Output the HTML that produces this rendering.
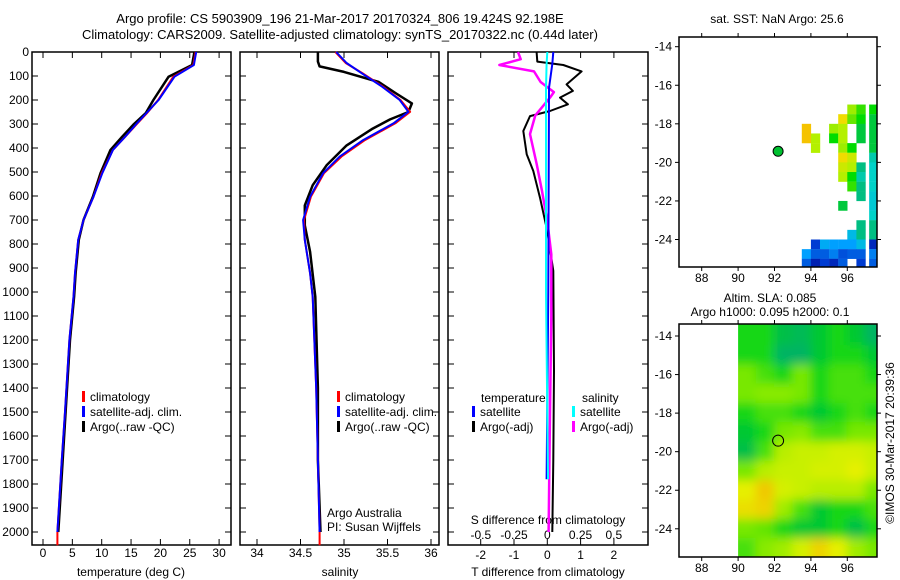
<!DOCTYPE html>
<html><head><meta charset="utf-8">
<style>
html,body{margin:0;padding:0;background:#fff;}
svg{display:block;font-family:"Liberation Sans",sans-serif;}
text{fill:#000;}
</style></head>
<body>
<svg id="c" width="900" height="580" viewBox="0 0 900 580" xmlns="http://www.w3.org/2000/svg">
<defs>
<clipPath id="clipM1"><rect x="679" y="37" width="198" height="230"/></clipPath>
<clipPath id="clipM2"><rect x="679" y="324" width="198" height="233"/></clipPath>
<filter id="blur" x="-20%" y="-20%" width="140%" height="140%"><feGaussianBlur stdDeviation="5"/></filter>
</defs>
<text x="340" y="23" font-size="13" text-anchor="middle">Argo profile: CS 5903909_196 21-Mar-2017 20170324_806 19.424S 92.198E</text>
<text x="340" y="39" font-size="13" text-anchor="middle">Climatology: CARS2009. Satellite-adjusted climatology: synTS_20170322.nc (0.44d later)</text>
<g id="g"></g>
</svg>
<script>
// ---- data ----
const depthTicks = [0,100,200,300,400,500,600,700,800,900,1000,1100,1200,1300,1400,1500,1600,1700,1800,1900,2000];
const tempTicks = [0,5,10,15,20,25,30];
const salTicks = [34,34.5,35,35.5,36];
const salTickLabels = ["34","34.5","35","35.5","36"];
const dTTicks = [-2,-1,0,1,2];
const dSTicks = [-0.5,-0.25,0,0.25,0.5];
const dSTickLabels = ["-0.5","-0.25","0","0.25","0.5"];

const depthT = [0,54,103,200,255,300,353,408,505,603,700,783,922,1020,1200,1500,1700,2000];
const climT = [26.0,25.6,22.2,19.6,17.7,16.0,14.0,11.9,10.0,8.6,6.9,6.0,5.45,5.2,4.5,3.75,3.2,2.45];
const satT  = [26.1,25.7,22.4,19.7,17.6,15.9,14.0,11.9,10.1,8.6,6.9,6.0,5.45,5.2,4.5,3.75,3.2,2.45];
const argoT = [25.8,25.4,21.4,18.8,17.5,15.5,13.5,11.5,9.8,8.5,6.9,6.1,5.55,5.3,4.6,3.85,3.35,2.6];

const depthS = [0,46,88,145,200,249,297,367,436,505,603,700,783,922,1020,1400,1700,2000];
const climS = [34.90,35.02,35.21,35.45,35.65,35.76,35.59,35.24,34.97,34.77,34.62,34.54,34.55,34.61,34.64,34.68,34.70,34.72];
const satS  = [34.91,35.03,35.20,35.44,35.64,35.74,35.57,35.22,34.95,34.76,34.61,34.53,34.55,34.61,34.64,34.68,34.70,34.72];
const depthAS = [0,40,60,83,125,173,214,250,281,319,389,472,555,639,722,833,1020,1400,1700,2000];
const argoS = [34.70,34.70,34.72,35.0,35.4,35.6,35.78,35.74,35.53,35.33,35.03,34.80,34.64,34.55,34.55,34.61,34.67,34.70,34.70,34.73];

const depthDT = [0,40,54,81,135,162,190,218,246,267,329,426,496,607,746,912,1329,1700,2000];
const argoDT = [-0.32,-0.3,0.48,1.03,0.58,0.77,0.38,0.62,0.08,-0.52,-0.72,-0.62,-0.42,-0.22,0,0.18,0.2,0.18,0.15];
const depthDS = [0,30,54,81,125,167,190,264,342,467,579,704,843,1100,1500,2000];
const argoDS = [-0.22,-0.2,-0.36,-0.1,-0.05,0.05,0.02,-0.09,-0.13,-0.08,-0.04,0,0.03,0.03,0.02,0.01];
const depthSat = [0,50,150,1000,1780];
const satDT = [0.18,0.15,0.05,0.03,-0.02];
const satDS = [0,-0.005,-0.01,-0.01,0.005];

const mapLonTicks = [88,90,92,94,96];
const mapLatTicks = [-14,-16,-18,-20,-22,-24];
const argoLon = 92.198, argoLat = -19.424;

// SST cells [lon, lat, value]
const sstLon = [96.25,96.75,97.45, 95.75,96.25,96.75,97.45, 93.75,95.25,95.75,96.75,97.45, 93.75,94.25,95.25,95.75,96.75,97.45, 94.25,95.75,96.25,97.45, 95.75,96.25,97.45, 95.75,96.25,96.75,97.45, 95.75,96.25,96.75,97.45, 96.25,96.75,97.45, 96.75,97.45, 95.75,97.45, 97.45, 96.75,97.45, 96.25,96.75,97.45, 94.25,94.75,95.25,95.75,96.25,96.75,97.45, 93.75,94.25,94.75,95.25,95.75,96.25,96.75,97.45, 93.75,94.25,94.75,95.25,95.75,96.75,97.45];
const sstLat = [-17.25,-17.25,-17.25, -17.75,-17.75,-17.75,-17.75, -18.25,-18.25,-18.25,-18.25,-18.25, -18.75,-18.75,-18.75,-18.75,-18.75,-18.75, -19.25,-19.25,-19.25,-19.25, -19.75,-19.75,-19.75, -20.25,-20.25,-20.25,-20.25, -20.75,-20.75,-20.75,-20.75, -21.25,-21.25,-21.25, -21.75,-21.75, -22.25,-22.25, -22.75, -23.25,-23.25, -23.75,-23.75,-23.75, -24.25,-24.25,-24.25,-24.25,-24.25,-24.25,-24.25, -24.75,-24.75,-24.75,-24.75,-24.75,-24.75,-24.75,-24.75, -25.25,-25.25,-25.25,-25.25,-25.25,-25.25,-25.25];
const sstVal = [0.7,0.6,0.55, 0.8,0.65,0.55,0.5, 0.85,0.7,0.72,0.5,0.5, 0.85,0.72,0.55,0.72,0.5,0.5, 0.72,0.7,0.55,0.5, 0.8,0.75,0.42, 0.75,0.72,0.45,0.4, 0.72,0.55,0.42,0.4, 0.6,0.45,0.4, 0.45,0.38, 0.5,0.38, 0.4, 0.45,0.45, 0.35,0.45,0.45, 0.15,0.32,0.3,0.3,0.3,0.35,0.1, 0.3,0.2,0.2,0.25,0.18,0.2,0.2,0.25, 0.2,0.08,0.15,0.1,0.2,0.15,0.2];

// SLA grid rows (lat) x cols (lon 90..97)
const slaLats = [-14,-15,-16,-17,-18,-19,-20,-21,-22,-23,-24,-25];
const slaLons = [90,91,92,93,94,95,96,97];
const slaVals = [
 [0.5,0.5,0.42,0.4,0.45,0.5,0.45,0.38],
 [0.5,0.5,0.38,0.38,0.45,0.5,0.5,0.45],
 [0.6,0.55,0.5,0.6,0.5,0.55,0.55,0.5],
 [0.6,0.62,0.62,0.6,0.5,0.55,0.55,0.55],
 [0.5,0.55,0.55,0.5,0.45,0.5,0.55,0.5],
 [0.45,0.5,0.6,0.62,0.55,0.55,0.6,0.6],
 [0.42,0.55,0.68,0.7,0.7,0.72,0.72,0.7],
 [0.6,0.68,0.7,0.7,0.72,0.72,0.75,0.7],
 [0.75,0.82,0.72,0.7,0.68,0.68,0.68,0.6],
 [0.78,0.8,0.65,0.55,0.45,0.5,0.5,0.55],
 [0.6,0.58,0.5,0.45,0.45,0.5,0.42,0.5],
 [0.55,0.62,0.65,0.72,0.8,0.75,0.65,0.6]];

// ---- helpers ----
const NS = "http://www.w3.org/2000/svg";
const G = document.getElementById('g');
function mk(tag, attrs, parent){const e=document.createElementNS(NS,tag);for(const k in attrs)e.setAttribute(k,attrs[k]);(parent||G).appendChild(e);return e;}
function txt(x,y,s,size,anchor,parent){const t=mk('text',{x:x,y:y,'font-size':size||12,'text-anchor':anchor||'middle'},parent);t.textContent=s;return t;}

const TOP=52, BOT=545;
const yD = d => TOP + d*0.24;
const P1={l:32,r:231}, P2={l:240,r:439}, P3={l:448,r:648};
const xT = v => 43 + v*5.87;
const xS = v => 257 + (v-34)*87;
const xDT = v => 547.3 + v*33.3;
const xDS = v => 547.3 + v*133;

function frame(p,name){
  const r=mk('rect',{x:p.l,y:TOP,width:p.r-p.l,height:BOT-TOP,fill:'none',stroke:'#000','stroke-width':1.5});
  
  
  depthTicks.forEach(d=>{
    mk('line',{x1:p.l,x2:p.l+6,y1:yD(d),y2:yD(d),stroke:'#000'});
    mk('line',{x1:p.r-6,x2:p.r,y1:yD(d),y2:yD(d),stroke:'#000'});
  });
}
function xticks(vals,fx,labels,ly,name,withTop){
  vals.forEach((v,i)=>{
    mk('line',{x1:fx(v),x2:fx(v),y1:BOT-6,y2:BOT,stroke:'#000'});
    if(withTop) mk('line',{x1:fx(v),x2:fx(v),y1:TOP,y2:TOP+6,stroke:'#000'});
    const t=txt(fx(v),ly,labels?labels[i]:String(v),12);
    
    
  });
}
function line(xs,ds,fx,color,w,name){
  const pts=xs.map((v,i)=>fx(v).toFixed(1)+','+yD(ds[i]).toFixed(1)).join(' ');
  const p=mk('polyline',{points:pts,fill:'none',stroke:color,'stroke-width':w,'stroke-linejoin':'round'});
  
  
  return p;
}
function legend(x,y,color,label,name){
  mk('rect',{x:x-1,y:y-6,width:3,height:11,fill:color});
  const t=txt(x+7,y+4,label,12,'start');
  
  
}

// ---- panel 1: temperature ----
frame(P1,'temperature-panel');
depthTicks.forEach(d=>{const t=txt(29,yD(d)+4,String(d),12,'end');
  
  });
xticks(tempTicks,xT,null,557,'temperature-tick-label',true);
{const t=txt(131,576,'temperature (deg C)',12);}
line(argoT,depthT,xT,'#000',2.5,'argo-temperature-line');
line(climT.concat([2.45]),depthT.concat([2055]),xT,'#f00',2,'climatology-temperature-line');
line(satT,depthT,xT,'#00f',2,'satellite-temperature-line');
legend(83,397,'#f00','climatology','legend-climatology');
legend(83,412,'#00f','satellite-adj. clim.','legend-satellite-adj');
legend(83,427,'#000','Argo(..raw -QC)','legend-argo');

// ---- panel 2: salinity ----
frame(P2,'salinity-panel');
xticks(salTicks,xS,salTickLabels,557,'salinity-tick-label',true);
{const t=txt(340,576,'salinity',12);}
line(argoS,depthAS,xS,'#000',2.5,'argo-salinity-line');
line(climS.concat([34.72]),depthS.concat([2055]),xS,'#f00',2,'climatology-salinity-line');
line(satS,depthS,xS,'#00f',2,'satellite-salinity-line');
legend(338,397,'#f00','climatology','legend-climatology-2');
legend(338,412,'#00f','satellite-adj. clim.','legend-satellite-adj-2');
legend(338,427,'#000','Argo(..raw -QC)','legend-argo-2');
{const t=txt(327,517,'Argo Australia',12,'start');}
{const t=txt(327,531,'PI: Susan Wijffels',12,'start');}

// ---- panel 3: differences ----
frame(P3,'difference-panel');
xticks(dTTicks,xDT,null,559,'t-diff-tick-label',true);
dSTicks.forEach((v,i)=>{const t=txt(xDS(v),539,dSTickLabels[i],12);
  
  });
{const t=txt(548,524,'S difference from climatology',12);}
{const t=txt(548,576,'T difference from climatology',12);}
line(argoDT,depthDT,xDT,'#000',2,'argo-t-diff-line');
line(argoDS,depthDS,xDS,'#f0f',2.5,'argo-s-diff-line');
line(satDT,depthSat,xDT,'#00f',2,'satellite-t-diff-line');
line(satDS,depthSat,xDS,'#0ff',2,'satellite-s-diff-line');
{const t=txt(481,402,'temperature',12,'start');}
{const t=txt(582,402,'salinity',12,'start');}
legend(473,412,'#00f','satellite','legend-t-satellite');
legend(473,427,'#000','Argo(-adj)','legend-t-argo');
legend(573,412,'#0ff','satellite','legend-s-satellite');
legend(573,427,'#f0f','Argo(-adj)','legend-s-argo');

// ---- maps ----
const mx = lon => 701.7 + (lon-88)*18.2;
function jet(v,stops){
  for(let i=1;i<stops.length;i++){ if(v<=stops[i][0]){const a=stops[i-1],b=stops[i],t=(v-a[0])/(b[0]-a[0]);
    return 'rgb('+[1,2,3].map(k=>Math.round(a[k]+(b[k]-a[k])*t)).join(',')+')';}}
  const s=stops[stops.length-1];return 'rgb('+s[1]+','+s[2]+','+s[3]+')';
}
const sstStops=[[0,0,0,140],[0.15,0,60,210],[0.3,0,160,255],[0.4,0,210,200],[0.45,0,190,130],[0.5,0,200,60],[0.55,0,220,0],[0.65,100,230,0],[0.72,180,240,0],[0.8,240,220,0],[0.9,250,170,0]];
const slaStops=[[0.38,0,180,100],[0.45,0,200,50],[0.5,20,215,20],[0.6,120,232,0],[0.7,200,240,0],[0.75,230,240,0],[0.82,240,200,0],[0.9,240,160,0]];

function mapFrame(top,bot,y0,name){
  const my = lat => y0 + (-14-lat)*19.28;
  const r=mk('rect',{x:679,y:top,width:198,height:bot-top,fill:'none',stroke:'#000','stroke-width':1.5});
  
  
  mapLonTicks.forEach(l=>{
    mk('line',{x1:mx(l),x2:mx(l),y1:top-4,y2:top,stroke:'#000'});
    mk('line',{x1:mx(l),x2:mx(l),y1:bot,y2:bot+4,stroke:'#000'});
    const t=txt(mx(l),bot+15,String(l),12);
    
    
  });
  mapLatTicks.forEach(l=>{
    mk('line',{x1:675,x2:679,y1:my(l),y2:my(l),stroke:'#000'});
    mk('line',{x1:877,x2:881,y1:my(l),y2:my(l),stroke:'#000'});
    const t=txt(672,my(l)+4,String(l),12,'end');
    
    
  });
}
// map 1 SST
{
  const t=txt(777,23,'sat. SST: NaN Argo: 25.6',12);
  const my = lat => 46.7 + (-14-lat)*19.28;
  const cg=mk('g',{'clip-path':'url(#clipM1)'});
  sstVal.forEach((v,i)=>{
    const c=mk('rect',{x:mx(sstLon[i]-0.25),y:my(sstLat[i]+0.25),width:9.3,height:9.8,fill:jet(v,sstStops)},cg);
    
    
  });
  mapFrame(37,267,46.7,'sst-map');
  const d=mk('circle',{cx:mx(argoLon),cy:my(argoLat),r:5,fill:'#00c030',stroke:'#000','stroke-width':1});
  
  
}
// map 2 SLA
{
  const t1=txt(770,302,'Altim. SLA: 0.085',12);
  const t2=txt(770,316,'Argo h1000: 0.095 h2000: 0.1',12);
  const my = lat => 336 + (-14-lat)*19.3;
  const cg=mk('g',{'clip-path':'url(#clipM2)'});
  mk('rect',{x:mx(90),y:320,width:200,height:245,fill:'rgb(60,220,10)'},cg);
  const inner=mk('g',{filter:'url(#blur)'},cg);
  slaLats.forEach((lat,ri)=>slaLons.forEach((lon,ci)=>{
    // edge cells are stretched outward so the blur does not fade at the frame
    const x0 = ci===0 ? mx(lon)-15 : mx(lon)-0.5;
    const x1 = ci===slaLons.length-1 ? mx(lon+1)+25 : mx(lon+1)+0.5;
    const y0 = ri===0 ? my(lat+0.5)-25 : my(lat+0.5)-0.5;
    const y1 = ri===slaLats.length-1 ? my(lat-0.5)+25 : my(lat-0.5)+0.5;
    const c=mk('rect',{x:x0,y:y0,width:x1-x0,height:y1-y0,fill:jet(slaVals[ri][ci],slaStops)},inner);
    
    
  }));
  mk('rect',{x:660,y:320,width:mx(90)-660,height:245,fill:'#fff'},cg);
  mapFrame(324,557,336,'sla-map');
  const d=mk('circle',{cx:mx(argoLon),cy:my(argoLat),r:5.5,fill:'none',stroke:'#000','stroke-width':1});
  
  
}
{const t=txt(0,0,'©IMOS 30-Mar-2017 20:39:36',12);
 t.setAttribute('transform','translate(894,443) rotate(-90)');
 
 }
</script>
</body></html>
